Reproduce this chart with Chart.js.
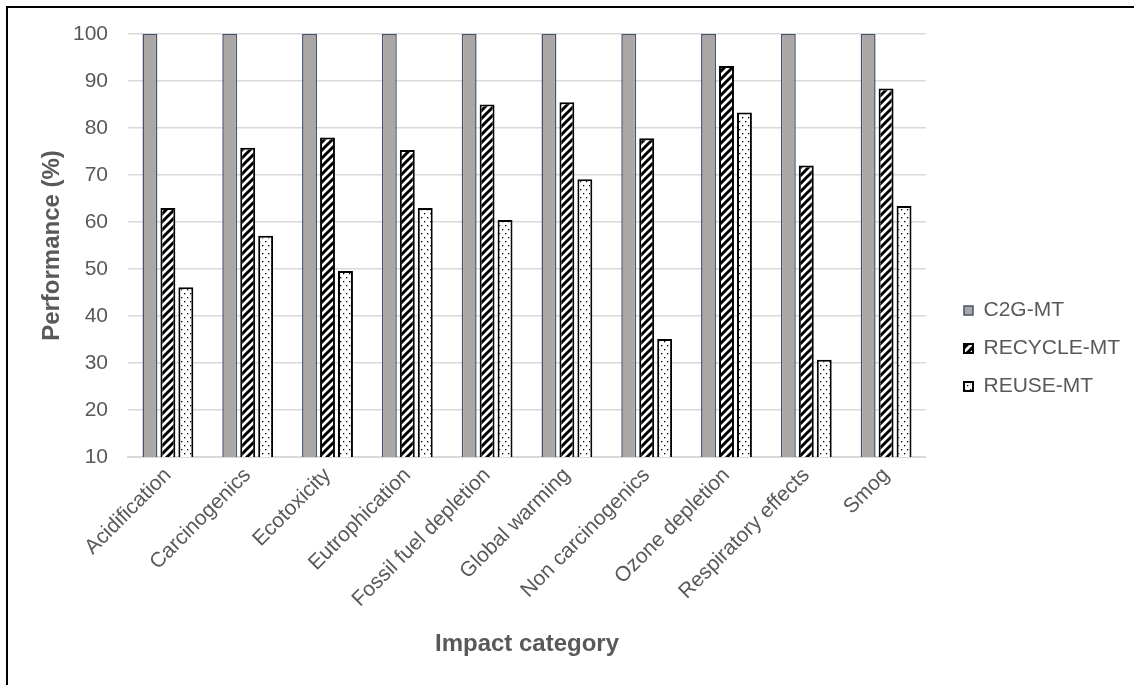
<!DOCTYPE html>
<html>
<head>
<meta charset="utf-8">
<script src="https://cdn.jsdelivr.net/npm/chart.js@4"></script>
<style>
  body { margin: 0; background: #fff; }
  #wrap { position: relative; width: 1134px; height: 685px; }
  #frame { position: absolute; left: 6px; top: 6px; right: 0; bottom: 0;
           border-top: 2px solid #000; border-left: 2px solid #000; pointer-events: none; }
</style>
</head>
<body>
<div id="wrap">
  <canvas id="chart" width="1134" height="685"></canvas>
  <div id="frame"></div>
</div>
<script>
var categories = ["Acidification", "Carcinogenics", "Ecotoxicity", "Eutrophication",
  "Fossil fuel depletion", "Global warming", "Non carcinogenics", "Ozone depletion",
  "Respiratory effects", "Smog"];
var c2g = [100, 100, 100, 100, 100, 100, 100, 100, 100, 100];
var recycle = [63, 75.8, 78, 75.3, 85, 85.5, 77.8, 93.2, 72, 88.4];
var reuse = [46.1, 57.1, 49.6, 63, 60.4, 69.1, 35.1, 83.3, 30.7, 63.4];
var yTicks = [10, 20, 30, 40, 50, 60, 70, 80, 90, 100];

var textColor = "#595959";
var fontFamily = "'Liberation Sans', Arial, sans-serif";

// stripes "/" for recycle
function stripes() {
  var c = document.createElement("canvas");
  c.width = 8;
  c.height = 8;
  var g = c.getContext("2d");
  g.fillStyle = "#fff";
  g.fillRect(0, 0, 8, 8);
  g.strokeStyle = "#000";
  g.lineWidth = 3;
  g.beginPath();
  g.moveTo(-2, 10); g.lineTo(10, -2);
  g.moveTo(-6, 6); g.lineTo(6, -6);
  g.moveTo(2, 14); g.lineTo(14, 2);
  g.stroke();
  return g.createPattern(c, "repeat");
}

// sparse dots for reuse
function dots() {
  var c = document.createElement("canvas");
  c.width = 6;
  c.height = 8;
  var g = c.getContext("2d");
  g.fillStyle = "#fff";
  g.fillRect(0, 0, 6, 8);
  g.fillStyle = "#000";
  g.fillRect(1, 1, 1.3, 1.3);
  g.fillRect(4, 5, 1.3, 1.3);
  return g.createPattern(c, "repeat");
}

var ctx = document.getElementById("chart").getContext("2d");

var chart = new Chart(ctx, {
  type: "bar",
  data: {
    labels: categories,
    datasets: [
      {
        label: "C2G-MT",
        data: c2g,
        backgroundColor: "#aba7a7",
        borderColor: "#44546a",
        borderWidth: 1.5
      },
      {
        label: "RECYCLE-MT",
        data: recycle,
        backgroundColor: stripes(),
        borderColor: "#000",
        borderWidth: 2
      },
      {
        label: "REUSE-MT",
        data: reuse,
        backgroundColor: dots(),
        borderColor: "#000",
        borderWidth: 2
      }
    ]
  },
  options: {
    responsive: false,
    animation: false,
    categoryPercentage: 0.675,
    barPercentage: 0.83,
    layout: { padding: { left: 0, top: 34, right: 4, bottom: 22 } },
    plugins: {
      tooltip: { enabled: false },
      legend: {
        position: "right",
        labels: {
          color: textColor,
          font: { family: fontFamily, size: 21 },
          boxWidth: 9,
          boxHeight: 9,
          padding: 17
        }
      }
    },
    scales: {
      x: {
        grid: { display: false, drawTicks: false },
        border: { display: true, color: "#d9d9d9", width: 2 },
        ticks: {
          color: textColor,
          font: { family: fontFamily, size: 21 },
          minRotation: 45,
          maxRotation: 45,
          padding: 6
        },
        title: {
          display: true,
          text: "Impact category",
          color: textColor,
          font: { family: fontFamily, size: 24, weight: "bold" },
          padding: { bottom: 4 }
        },
        afterFit: function(s) { s.height = 206; }
      },
      y: {
        min: 10,
        max: 100,
        afterBuildTicks: function(s) {
          s.ticks = yTicks.map(function(v) { return { value: v }; });
        },
        grid: { color: "#d9d9d9", lineWidth: 1.5, drawTicks: false },
        border: { display: false },
        ticks: {
          color: textColor,
          font: { family: fontFamily, size: 21 },
          padding: 20
        },
        title: {
          display: true,
          text: "Performance (%)",
          color: textColor,
          font: { family: fontFamily, size: 24, weight: "bold" },
          padding: { top: 38 }
        },
        afterFit: function(s) { s.width = 128; }
      },
      // empty strip between plot and legend
      gap: {
        type: "linear",
        position: "right",
        grid: { display: false, drawTicks: false },
        border: { display: false },
        ticks: { display: false },
        afterFit: function(s) { s.width = 21; }
      }
    }
  }
});
</script>
</body>
</html>
